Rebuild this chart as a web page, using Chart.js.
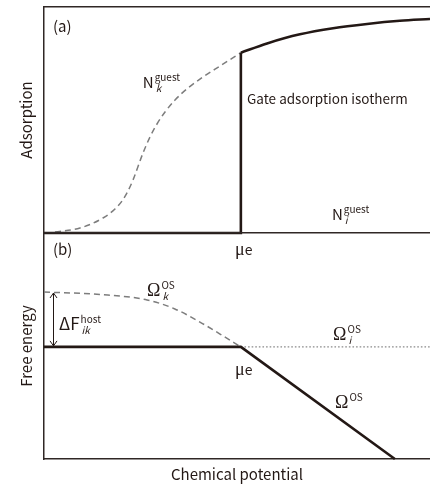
<!DOCTYPE html>
<html><head><meta charset="utf-8">
<script src="https://cdn.jsdelivr.net/npm/chart.js@4.4.1/dist/chart.umd.min.js"></script>
<style>
html,body{margin:0;padding:0;background:#fff;}
#wrap{position:relative;width:430px;height:484px;overflow:hidden;background:#fff;}
canvas{position:absolute;left:0;top:0;}
</style></head><body>
<div id="wrap"><canvas id="ca" width="430" height="484"></canvas><canvas id="cb" width="430" height="484"></canvas></div>
<script>
// ---- data (chemical potential on 0..100 axis, values on 0..100 axes) ----
const muE = 51;
// Panel (a): adsorption isotherms
const gateStepX = [0, 51, 51];
const gateStepY = [0, 0, 79.8];
const gateCurveX = [51, 57.8, 66.3, 74.9, 83.7, 92.2, 100];
const gateCurveY = [79.8, 83.9, 87.9, 90.6, 92.5, 93.9, 94.7];
const guestKX = [2.85, 9.33, 15.28, 18.39, 20.21, 21.76, 23.06, 25.65, 27.46, 29.27, 31.35, 33.94, 37.31, 41.19, 45.6, 51];
const guestKY = [0.44, 2.21, 6.64, 10.62, 14.16, 18.58, 23.45, 35.4, 42.48, 48.23, 53.54, 58.85, 64.16, 69.03, 73.89, 79.8];
// Panel (b): free energies
const omegaX = [0, 51, 90.9];
const omegaY = [49.6, 49.6, 0];
const omegaIX = [51, 100];
const omegaIY = [49.6, 49.6];
const omegaKX = [0, 14.5, 26.7, 33.9, 40.4, 45.6, 51];
const omegaKY = [73.9, 72.8, 70.4, 66.4, 60.6, 55.3, 49.6];
const deltaFx = 2.3, deltaFfrom = 49.6, deltaFto = 73.9;

const INK = '#231815', FRAME = '#2f2725', GREY = '#7d7d7d', DOT = '#8a8a8a';
const SANS = '"Noto Sans CJK JP", "Noto Sans", sans-serif';
const SERIF = '"Liberation Serif", "DejaVu Serif", serif';
const MAIN = '15px ' + SANS;
const SUP = '10px ' + SANS;
const SUBI = 'italic 10px ' + SANS;
const OMEGA = '18px ' + SERIF;
const MU = '18px ' + SERIF;

const pts = (xs, ys) => xs.map((x, i) => ({x, y: ys[i]}));

const labelsA = [
  {x: 2.3, y: 88.9, main: '(a)', font: MAIN},
  {x: 25.6, y: 64.2, main: 'N', font: MAIN, sup: 'guest', sub: 'k'},
  {x: 52.6, y: 57.1, main: 'Gate adsorption isotherm', font: '13.5px ' + SANS},
  {x: 74.6, y: 5.8, main: 'N', font: MAIN, sup: 'guest', sub: 'i'}
];
const labelsB = [
  {x: 2.3, y: 90.3, main: '(b)', font: MAIN},
  {x: 49.5, y: 90.3, main: 'μ', font: MU, sub: 'e', subFont: '14px ' + SANS, subDy: 0, subDx: 0},
  {x: 26.7, y: 72.1, main: 'Ω', font: OMEGA, sup: 'OS', sub: 'k'},
  {x: 3.9, y: 57.1, main: 'ΔF', font: '17px ' + SANS, sup: 'host', sub: 'ik'},
  {x: 74.9, y: 52.7, main: 'Ω', font: OMEGA, sup: 'OS', sub: 'i'},
  {x: 49.5, y: 37.2, main: 'μ', font: MU, sub: 'e', subFont: '14px ' + SANS, subDy: 0, subDx: 0},
  {x: 75.4, y: 22.6, main: 'Ω', font: OMEGA, sup: 'OS'}
];

function annot(id, items, extra) {
  return {
    id,
    afterDatasetsDraw(chart) {
      const ctx = chart.ctx, xs = chart.scales.x, ys = chart.scales.y;
      ctx.save();
      ctx.fillStyle = INK;
      ctx.textBaseline = 'alphabetic';
      ctx.textAlign = 'left';
      for (const it of items) {
        const px = xs.getPixelForValue(it.x), py = ys.getPixelForValue(it.y);
        ctx.font = it.font;
        ctx.fillText(it.main, px, py);
        const w = ctx.measureText(it.main).width;
        if (it.sup) { ctx.font = it.supFont || SUP; ctx.fillText(it.sup, px + w + 1, py + (it.supDy ?? -7)); }
        if (it.sub) { ctx.font = it.subFont || SUBI; ctx.fillText(it.sub, px + w + (it.subDx ?? 2), py + (it.subDy ?? 4)); }
      }
      if (extra) extra(chart, ctx);
      ctx.restore();
    }
  };
}

function drawArrow(chart, ctx) {
  const xs = chart.scales.x, ys = chart.scales.y;
  const px = Math.round(xs.getPixelForValue(deltaFx)) + 0.5;
  const y1 = ys.getPixelForValue(deltaFto), y2 = ys.getPixelForValue(deltaFfrom);
  ctx.strokeStyle = INK; ctx.lineWidth = 1;
  ctx.beginPath();
  ctx.moveTo(px, y1 + 1); ctx.lineTo(px, y2 - 1);
  ctx.moveTo(px - 3.5, y1 + 6); ctx.lineTo(px, y1 + 1); ctx.lineTo(px + 3.5, y1 + 6);
  ctx.moveTo(px - 3.5, y2 - 6); ctx.lineTo(px, y2 - 1); ctx.lineTo(px + 3.5, y2 - 6);
  ctx.stroke();
}

const axisBorder = {display: true, color: FRAME, width: 1.5};
const noGrid = {display: false, drawTicks: false};
const common = {
  responsive: false, animation: false, events: [],
  plugins: {legend: {display: false}, tooltip: {enabled: false}}
};

new Chart(document.getElementById('ca'), {
  type: 'line',
  data: {datasets: [
    {data: pts(gateStepX, gateStepY), borderColor: INK, borderWidth: 2.6, tension: 0, pointRadius: 0, clip: false},
    {data: pts(gateCurveX, gateCurveY), borderColor: INK, borderWidth: 2.6, cubicInterpolationMode: 'monotone', pointRadius: 0, clip: false},
    {data: pts(guestKX, guestKY), borderColor: GREY, borderWidth: 1.5, borderDash: [6, 4], cubicInterpolationMode: 'monotone', pointRadius: 0, clip: false}
  ]},
  options: Object.assign({}, common, {
    layout: {padding: {top: 7, bottom: 251, left: 0, right: 0}},
    scales: {
      x: {type: 'linear', min: 0, max: 100, display: false},
      xTop: {type: 'linear', position: 'top', min: 0, max: 100, ticks: {display: false}, grid: noGrid, border: axisBorder, afterFit(s) { s.height = 0; }},
      y: {type: 'linear', min: 0, max: 100, ticks: {display: false}, grid: noGrid, border: axisBorder,
          title: {display: true, text: 'Adsorption', color: INK, font: {family: SANS, size: 15}, padding: {top: 17, bottom: 0}},
          afterFit(s) { s.width = 44; }}
    }
  }),
  plugins: [annot('annotA', labelsA)]
});

new Chart(document.getElementById('cb'), {
  type: 'line',
  data: {datasets: [
    {data: pts(omegaX, omegaY), borderColor: INK, borderWidth: 2.6, tension: 0, pointRadius: 0, clip: false},
    {data: pts(omegaIX, omegaIY), borderColor: DOT, borderWidth: 1.1, borderDash: [1.6, 2], tension: 0, pointRadius: 0, clip: false},
    {data: pts(omegaKX, omegaKY), borderColor: GREY, borderWidth: 1.5, borderDash: [6, 4], cubicInterpolationMode: 'monotone', pointRadius: 0, clip: false}
  ]},
  options: Object.assign({}, common, {
    layout: {padding: {top: 233, bottom: 0, left: 0, right: 0}},
    scales: {
      x: {type: 'linear', position: 'bottom', min: 0, max: 100, ticks: {display: false}, grid: noGrid, border: axisBorder,
          title: {display: true, text: 'Chemical potential', color: INK, font: {family: SANS, size: 15}, padding: {top: 0, bottom: 1}},
          afterFit(s) { s.height = 25; }},
      xTop: {type: 'linear', position: 'top', min: 0, max: 100, ticks: {display: false}, grid: noGrid, border: axisBorder, afterFit(s) { s.height = 0; }},
      y: {type: 'linear', min: 0, max: 100, ticks: {display: false}, grid: noGrid, border: axisBorder,
          title: {display: true, text: 'Free energy', color: INK, font: {family: SANS, size: 15}, padding: {top: 17, bottom: 0}},
          afterFit(s) { s.width = 44; }}
    }
  }),
  plugins: [annot('annotB', labelsB, drawArrow)]
});
</script>
</body></html>
